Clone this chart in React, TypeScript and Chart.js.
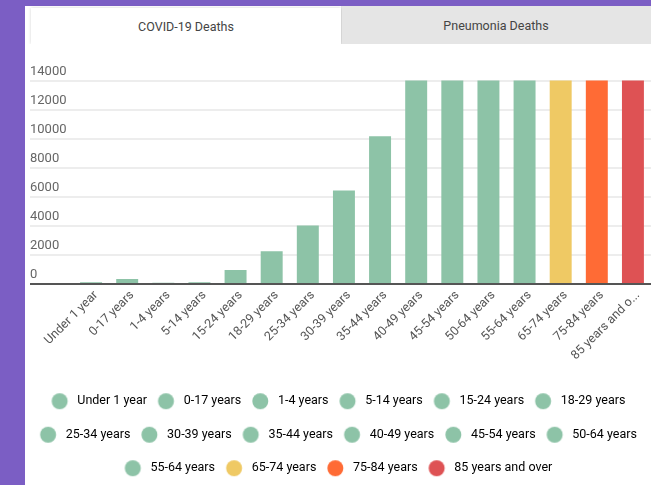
import React, { useEffect, useRef } from "react";
import { Chart, registerables } from "chart.js";

Chart.register(...registerables);

const categories = [
  "Under 1 year",
  "0-17 years",
  "1-4 years",
  "5-14 years",
  "15-24 years",
  "18-29 years",
  "25-34 years",
  "30-39 years",
  "35-44 years",
  "40-49 years",
  "45-54 years",
  "50-64 years",
  "55-64 years",
  "65-74 years",
  "75-84 years",
  "85 years and over",
];

const covidDeaths = [120, 350, 80, 120, 960, 2260, 4030, 6430, 10160, 17900, 35800, 98600, 76100, 121700, 146400, 165300];

const GREEN = "#8DC3A7";
const barColors = [
  GREEN, GREEN, GREEN, GREEN, GREEN, GREEN, GREEN, GREEN, GREEN, GREEN, GREEN, GREEN, GREEN,
  "#EFC964",
  "#FF6B35",
  "#DE5254",
];

const yMax = 14000;
const yStep = 2000;
const tabLabels = ["COVID-19 Deaths", "Pneumonia Deaths"];

const PURPLE = "#7B5EC4";
const FONT = "Roboto, 'Noto Sans', sans-serif";

export default function App() {
  const ref = useRef<HTMLCanvasElement>(null);

  useEffect(() => {
    const canvas = ref.current!;
    const dots = barColors.map((c) => {
      const cv = document.createElement("canvas");
      cv.width = 40;
      cv.height = 20;
      const g = cv.getContext("2d")!;
      g.fillStyle = c;
      g.beginPath();
      g.arc(13.3, 10, 8, 0, Math.PI * 2);
      g.fill();
      return cv;
    });

    const legendNudge = {
      id: "legendNudge",
      afterLayout(chart: any) {
        const lg = chart.legend;
        if (lg) {
          lg.left -= 4.5;
          lg.right -= 4.5;
        }
      },
    };

    const chart = new Chart(canvas, {
      type: "bar",
      data: {
        labels: categories,
        datasets: [
          {
            label: tabLabels[0],
            data: covidDeaths,
            backgroundColor: barColors,
            borderWidth: 0,
            barPercentage: 0.76,
            categoryPercentage: 0.8,
            clip: 0,
          } as any,
        ],
      },
      plugins: [legendNudge],
      options: {
        responsive: false,
        animation: false,
        layout: { padding: { top: 35.5, bottom: 0.5, left: 0, right: 0 } },
        plugins: {
          tooltip: { enabled: false },
          legend: {
            position: "bottom",
            labels: {
              usePointStyle: true,
              boxWidth: 9.45,
              padding: 21,
              color: "#555",
              font: { family: FONT, size: 12.5 },
              generateLabels: () =>
                categories.map((c, i) => ({
                  text: c,
                  fillStyle: barColors[i],
                  strokeStyle: barColors[i],
                  lineWidth: 0,
                  hidden: false,
                  pointStyle: dots[i],
                  datasetIndex: 0,
                  index: i,
                })) as any,
            },
          },
        },
        scales: {
          x: {
            grid: { display: false, drawTicks: false },
            border: { display: false },
            ticks: {
              minRotation: 45,
              maxRotation: 45,
              autoSkip: false,
              padding: 4,
              labelOffset: 5,
              color: "#555",
              font: { family: FONT, size: 12.5 },
              callback: (_v: any, i: number) => {
                const s = categories[i];
                return s.length > 14 ? s.slice(0, 14) + "..." : s;
              },
            },
            afterFit: (s: any) => {
              s.height = 90;
            },
          },
          y: {
            min: 0,
            max: yMax,
            border: { display: false },
            grid: {
              drawTicks: true,
              tickLength: 43,
              color: (ctx: any) => (ctx.tick && ctx.tick.value === 0 ? "#555" : "#ededed"),
              lineWidth: 2,
            },
            ticks: {
              stepSize: yStep,
              crossAlign: "far",
              labelOffset: -9,
              color: "#666",
              font: { family: FONT, size: 13 },
              callback: (v: any) => String(v),
            },
            afterFit: (s: any) => {
              s.width = 43;
            },
          },
          spacer: {
            type: "linear",
            position: "right",
            display: true,
            grid: { display: false, drawTicks: false },
            border: { display: false },
            ticks: { display: false },
            afterFit: (s: any) => {
              s.width = 15;
            },
          },
        },
      },
    });
    return () => chart.destroy();
  }, []);

  const tabText: React.CSSProperties = {
    position: "absolute",
    display: "flex",
    alignItems: "center",
    justifyContent: "center",
    fontFamily: FONT,
    fontSize: 12.5,
    color: "#444",
  };

  return (
    <div style={{ position: "fixed", left: 0, top: 0, width: 651, height: 485, background: PURPLE, overflow: "hidden" }}>
      <div style={{ position: "absolute", left: 25, top: 6, width: 626, height: 479, background: "#fff" }} />
      <div style={{ ...tabText, left: 341, top: 6, width: 310, height: 38, background: "#e5e5e5" }}>{tabLabels[1]}</div>
      <div
        style={{
          ...tabText,
          left: 31,
          top: 8,
          width: 310,
          height: 36,
          background: "#fff",
          boxShadow: "0 0 3px rgba(0,0,0,0.18)",
          clipPath: "inset(-4px -1px 0 -4px)",
        }}
      >
        {tabLabels[0]}
      </div>
      <canvas ref={ref} width={636} height={440} style={{ position: "absolute", left: 30, top: 45, width: 636, height: 440 }} />
    </div>
  );
}
